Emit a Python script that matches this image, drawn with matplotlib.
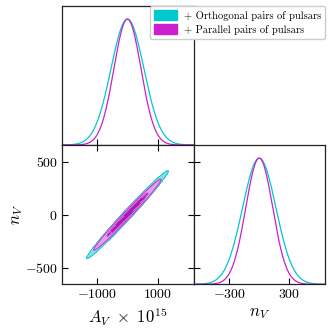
import numpy as np
import matplotlib
matplotlib.use("Agg")
import matplotlib.pyplot as plt
from matplotlib.patches import Patch

plt.rcParams['font.family'] = 'serif'
plt.rcParams['font.serif'] = ['cmr10']
plt.rcParams['mathtext.fontset'] = 'cm'
plt.rcParams['axes.formatter.use_mathtext'] = True

# chains: Gaussian posterior summaries
labels = ['+ Orthogonal pairs of pulsars', '+ Parallel pairs of pulsars']
line_colors = ['#00c8cc', '#cc1ecc']
fill_inner = ['#2cc8cc', '#a020b4']
fill_outer = ['#86e0e6', '#dca4e8']
mean_A = [0.0, 0.0]
sigma_A = [540.0, 445.0]
mean_n = [0.0, 0.0]
sigma_n = [167.0, 135.0]
corr = [0.989, 0.989]
conf_levels = [0.6827, 0.9545]

A_ticks = [-1000, 1000]
n_ticks = [-500, 0, 500]
n_ticks_1d = [-300, 300]
A_lim = (-2150, 2170)
n_lim = (-657, 657)

fig = plt.figure(figsize=(3.32, 3.32), dpi=100)

x0, xm, x1 = 62 / 332, 193.5 / 332, 325 / 332
y0, ym, y1 = 1 - 284.3 / 332, 1 - 145 / 332, 1 - 6 / 332

ax_top = fig.add_axes([x0, ym, xm - x0, y1 - ym])
ax_2d = fig.add_axes([x0, y0, xm - x0, ym - y0])
ax_n = fig.add_axes([xm, y0, x1 - xm, ym - y0])

ytop = 1.104

for ax in (ax_top, ax_2d, ax_n):
    for s in ax.spines.values():
        s.set_linewidth(0.9)
        s.set_color('#222222')

# 1D marginals
a = np.linspace(A_lim[0], A_lim[1], 600)
nn = np.linspace(n_lim[0], n_lim[1], 600)
for i in range(2):
    pa = np.exp(-0.5 * ((a - mean_A[i]) / sigma_A[i]) ** 2)
    ax_top.plot(a, pa, color=line_colors[i], lw=0.9)
    pn = np.exp(-0.5 * ((nn - mean_n[i]) / sigma_n[i]) ** 2)
    ax_n.plot(nn, pn, color=line_colors[i], lw=0.9)

# 2D contours
A, N = np.meshgrid(np.linspace(A_lim[0], A_lim[1], 600),
                   np.linspace(n_lim[0], n_lim[1], 600))
rad = [-2 * np.log(1 - p) for p in conf_levels]
for i in range(2):
    u = (A - mean_A[i]) / sigma_A[i]
    v = (N - mean_n[i]) / sigma_n[i]
    r2 = (u ** 2 - 2 * corr[i] * u * v + v ** 2) / (1 - corr[i] ** 2)
    ax_2d.contourf(A, N, r2, levels=[0, rad[0], rad[1]],
                   colors=[fill_inner[i], fill_outer[i]], zorder=2 + i)
    ax_2d.contour(A, N, r2, levels=rad, colors=[line_colors[i]],
                  linewidths=0.6, zorder=2 + i)

# axes limits and ticks
ax_top.set_xlim(A_lim)
ax_top.set_ylim(0, ytop)
ax_top.set_xticks(A_ticks)
ax_top.set_yticks([])
ax_top.tick_params(axis='x', direction='in', length=4, width=0.8,
                   labelbottom=False)

ax_2d.set_xlim(A_lim)
ax_2d.set_ylim(n_lim)
ax_2d.set_xticks(A_ticks)
ax_2d.set_yticks(n_ticks)
ax_2d.tick_params(direction='in', length=4, width=0.8, top=True, right=True,
                  labelsize=10, pad=3)
ax_2d.set_xlabel(r'$A_V\ \times\ 10^{15}$', fontsize=12, labelpad=3)
ax_2d.set_ylabel(r'$n_V$', fontsize=12, labelpad=0)

ax_n.set_xlim(n_lim)
ax_n.set_ylim(0, ytop)
ax_n.set_xticks(n_ticks_1d)
ax_n.set_yticks([(t - n_lim[0]) / (n_lim[1] - n_lim[0]) * ytop for t in n_ticks])
ax_n.tick_params(direction='in', length=4, width=0.8, labelleft=False,
                 labelsize=10, pad=3)
ax_n.set_xlabel(r'$n_V$', fontsize=12, labelpad=3)

handles = [Patch(facecolor=line_colors[i], edgecolor=line_colors[i]) for i in range(2)]
fig.legend(handles, labels, loc='upper right', bbox_to_anchor=(x1, y1),
           bbox_transform=fig.transFigure, borderaxespad=0, fontsize=7.6,
           handlelength=2.2, handleheight=1.0, labelspacing=0.35,
           borderpad=0.4, handletextpad=0.6, framealpha=1,
           edgecolor='#cccccc')

fig.savefig('out.png', dpi=100)
